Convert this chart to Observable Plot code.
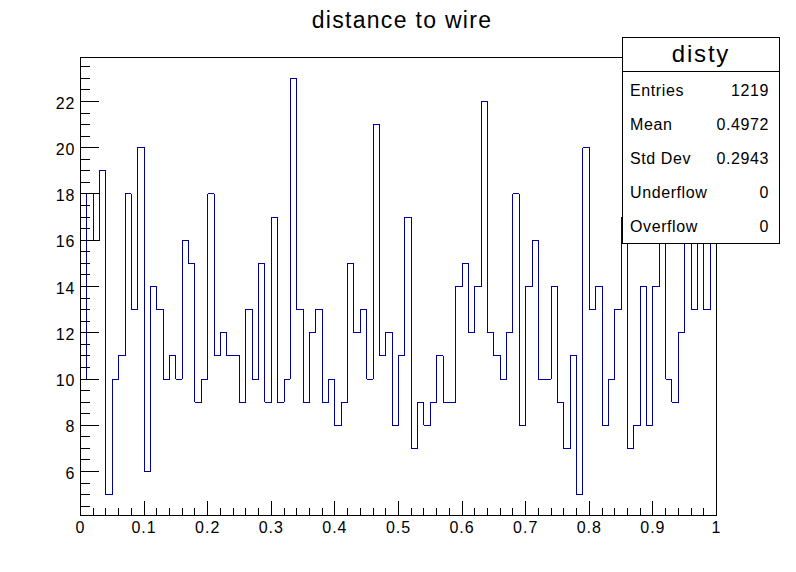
<!DOCTYPE html>
<html>
<head>
<meta charset="utf-8">
<script src="https://cdn.jsdelivr.net/npm/d3@7"></script>
<script src="https://cdn.jsdelivr.net/npm/@observablehq/plot@0.6"></script>
<style>
  body { margin: 0; background: #fff; }
  #wrap { position: relative; width: 796px; height: 572px; }
  #overlay { position: absolute; left: 0; top: 0; pointer-events: none; }
  #chart svg { display: block; }
</style>
</head>
<body>
<div id="wrap">
  <div id="chart"></div>
  <svg id="overlay" width="796" height="572"></svg>
</div>
<script>
// Histogram "disty": 100 bins on [0, 1]
const histName = "disty";
const histTitle = "distance to wire";
const nBins = 100;
const xLow = 0;
const xHigh = 1;
const counts = [
  10, 18, 16, 19, 5, 10, 11, 18, 13, 20,
  6, 14, 13, 10, 11, 10, 16, 15, 9, 10,
  18, 11, 12, 11, 11, 9, 13, 10, 15, 9,
  17, 9, 10, 23, 13, 9, 12, 13, 9, 10,
  8, 9, 15, 12, 13, 10, 21, 11, 12, 8,
  11, 17, 7, 9, 8, 9, 11, 9, 9, 14,
  15, 12, 14, 22, 12, 11, 10, 12, 18, 8,
  14, 16, 10, 10, 14, 9, 7, 11, 5, 20,
  13, 14, 8, 10, 13, 17, 7, 8, 14, 8,
  14, 16, 10, 9, 12, 16, 13, 17, 13, 16
];

// Statistics box
const statLabels = ["Entries", "Mean", "Std Dev", "Underflow", "Overflow"];
const statValues = ["1219", "0.4972", "0.2943", "0", "0"];

// Axis ticks
const xTicks = [0, 0.1, 0.2, 0.3, 0.4, 0.5, 0.6, 0.7, 0.8, 0.9, 1];
const xTickLabels = ["0", "0.1", "0.2", "0.3", "0.4", "0.5", "0.6", "0.7", "0.8", "0.9", "1"];
const yTicks = [6, 8, 10, 12, 14, 16, 18, 20, 22];
const yTickLabels = ["6", "8", "10", "12", "14", "16", "18", "20", "22"];
const yDomain = [4.1, 23.9];

// minor divisions: 5 per x division, 4 per y division
const xMinor = d3.range(0, 51).map(i => i / 50);
const yMinor = d3.range(9, 48).map(i => i / 2);

const W = 796, H = 572;
const mL = 80, mR = 80, mT = 57, mB = 57;
const frameW = W - mL - mR, frameH = H - mT - mB;

// outline of the histogram: up from the frame bottom, across each bin, back down
const binW = (xHigh - xLow) / nBins;
const outline = [{x: xLow, y: yDomain[0]}];
counts.forEach((c, i) => outline.push({x: xLow + i * binW, y: c}));
outline.push({x: xHigh, y: counts[nBins - 1]});
outline.push({x: xHigh, y: yDomain[0]});

const font = "'Liberation Sans', Arial, Helvetica, sans-serif";

const chart = Plot.plot({
  width: W,
  height: H,
  marginLeft: mL,
  marginRight: mR,
  marginTop: mT,
  marginBottom: mB,
  x: {domain: [xLow, xHigh]},
  y: {domain: yDomain},
  style: {
    fontFamily: font,
    fontSize: "16px",
    letterSpacing: "1px",
    color: "#000",
    background: "#fff",
    shapeRendering: "crispEdges"
  },
  marks: [
    Plot.line(outline, {x: "x", y: "y", curve: "step-after", stroke: "#000099", strokeWidth: 1}),
    Plot.tickX(xTicks, {x: d => d, stroke: "#000", strokeWidth: 1, insetTop: frameH - 14}),
    Plot.tickX(xMinor, {x: d => d, stroke: "#000", strokeWidth: 1, insetTop: frameH - 7}),
    Plot.tickY(yTicks, {y: d => d, stroke: "#000", strokeWidth: 1, insetRight: frameW - 19}),
    Plot.tickY(yMinor, {y: d => d, stroke: "#000", strokeWidth: 1, insetRight: frameW - 9.5}),
    Plot.frame({stroke: "#000", strokeWidth: 1}),
    Plot.axisX({
      ticks: xTicks,
      tickSize: 0,
      tickPadding: 6,
      tickFormat: d => xTickLabels[xTicks.indexOf(d)],
      fontSize: 16,
      label: null
    }),
    Plot.axisY({
      ticks: yTicks,
      tickSize: 0,
      tickPadding: 5,
      dy: 2,
      tickFormat: d => yTickLabels[yTicks.indexOf(d)],
      fontSize: 16,
      label: null
    })
  ]
});
document.getElementById("chart").appendChild(chart);

// Title and statistics box
const ov = d3.select("#overlay").style("font-family", font);

ov.append("text")
  .attr("x", 402).attr("y", 28)
  .attr("text-anchor", "middle")
  .style("font-size", "23px")
  .style("letter-spacing", "1.3px")
  .text(histTitle);

const bx = 622.5, by = 37.5, bw = 157, bh = 206;
ov.append("rect")
  .attr("x", bx).attr("y", by).attr("width", bw).attr("height", bh)
  .attr("fill", "#fff").attr("stroke", "#000").attr("stroke-width", 1);
ov.append("line")
  .attr("x1", bx).attr("x2", bx + bw).attr("y1", 71.5).attr("y2", 71.5)
  .attr("stroke", "#000").attr("stroke-width", 1);
ov.append("text")
  .attr("x", bx + bw / 2).attr("y", 62)
  .attr("text-anchor", "middle")
  .style("font-size", "24px")
  .style("letter-spacing", "1.8px")
  .text(histName);

const rowBase = [96, 130, 164, 198, 232];
statLabels.forEach((lab, i) => {
  ov.append("text")
    .attr("x", 630).attr("y", rowBase[i])
    .style("font-size", "16px")
    .style("letter-spacing", "0.6px")
    .text(lab);
  ov.append("text")
    .attr("x", 769).attr("y", rowBase[i])
    .attr("text-anchor", "end")
    .style("font-size", "16px")
    .style("letter-spacing", "0.6px")
    .text(statValues[i]);
});
</script>
</body>
</html>
